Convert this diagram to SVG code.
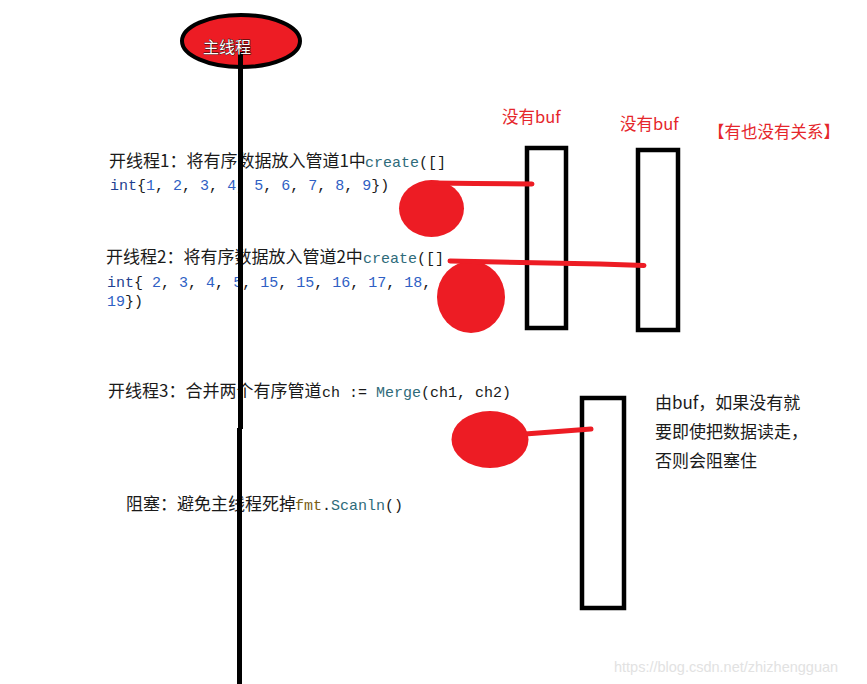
<svg xmlns="http://www.w3.org/2000/svg" width="867" height="684" viewBox="0 0 867 684">
<style>
.cjk{font-family:"Noto Sans CJK SC","Liberation Sans",sans-serif;font-size:17px;fill:#1a1a1a}
.mono{font-family:"Liberation Mono",monospace;font-size:15px;fill:#1a1a1a}
.fn{fill:#2f6b7a}
.kw{fill:#1f3f8f}
.num{fill:#2f5fc4}
.fmt{fill:#7a5c12}
.red{font-family:"Noto Sans CJK SC","Liberation Sans",sans-serif;font-size:16.5px;fill:#e5262b}
.box{fill:none;stroke:#000;stroke-width:4.5}
.dot{fill:#ed1c24}
.rl{stroke:#ed1c24;stroke-width:5;stroke-linecap:round;fill:none}
</style>
<rect width="867" height="684" fill="#fff"/>

<g id="thread1-text">
<text class="cjk" x="109" y="167">开线程1：将有序数据放入管道1中<tspan class="mono fn" x="365">create</tspan><tspan class="mono">([]</tspan></text>
<text class="mono" x="110" y="190"><tspan class="kw">int</tspan>{<tspan class="num">1</tspan>, <tspan class="num">2</tspan>, <tspan class="num">3</tspan>, <tspan class="num">4</tspan>, <tspan class="num">5</tspan>, <tspan class="num">6</tspan>, <tspan class="num">7</tspan>, <tspan class="num">8</tspan>, <tspan class="num">9</tspan>})</text>
</g>

<g id="thread2-text">
<text class="cjk" x="106" y="263">开线程2：将有序数据放入管道2中<tspan class="mono fn" x="363">create</tspan><tspan class="mono">([]</tspan></text>
<text class="mono" x="107" y="287"><tspan class="kw">int</tspan>{ <tspan class="num">2</tspan>, <tspan class="num">3</tspan>, <tspan class="num">4</tspan>, <tspan class="num">5</tspan>, <tspan class="num">15</tspan>, <tspan class="num">15</tspan>, <tspan class="num">16</tspan>, <tspan class="num">17</tspan>, <tspan class="num">18</tspan>,</text>
<text class="mono" x="107" y="306"><tspan class="num">19</tspan>})</text>
</g>

<g id="thread3-text">
<text class="cjk" x="108" y="397">开线程3：合并两个有序管道<tspan class="mono" x="322">ch := </tspan><tspan class="mono fn">Merge</tspan><tspan class="mono">(ch1, ch2)</tspan></text>
</g>

<g id="block-text">
<text class="cjk" x="126" y="510">阻塞：避免主线程死掉<tspan class="mono fmt" x="295">fmt</tspan><tspan class="mono">.</tspan><tspan class="mono fn">Scanln</tspan><tspan class="mono">()</tspan></text>
</g>

<g id="main-thread">
<line x1="240.5" y1="56" x2="240.5" y2="429" stroke="#000" stroke-width="5"/>
<line x1="239.5" y1="428" x2="239.5" y2="684" stroke="#000" stroke-width="5"/>
</g>

<g id="main-node">
<ellipse cx="241" cy="41" rx="59" ry="26" fill="#ed1c24" stroke="#000" stroke-width="4"/>
<line x1="240.5" y1="52" x2="240.5" y2="68" stroke="#000" stroke-width="5"/>
<text x="203" y="53" font-family="'Noto Sans CJK SC',sans-serif" font-size="16" fill="#fff" stroke="#000" stroke-width="0.8" paint-order="stroke">主线程</text>
</g>

<g id="channel1">
<rect class="box" x="527" y="148" width="39" height="180"/>
<text class="red" x="502" y="123">没有buf</text>
</g>

<g id="channel2">
<rect class="box" x="638" y="150" width="40" height="180"/>
<text class="red" x="620" y="130">没有buf</text>
<text class="red" x="708" y="138" font-size="15">【有也没有关系】</text>
</g>

<g id="channel3">
<rect class="box" x="582" y="398" width="42" height="210"/>
<text class="cjk" x="655" y="409" font-size="16">由buf，如果没有就</text>
<text class="cjk" x="655" y="438" font-size="16">要即使把数据读走，</text>
<text class="cjk" x="655" y="467" font-size="16">否则会阻塞住</text>
</g>

<g id="goroutine1"><ellipse class="dot" cx="431.5" cy="208.5" rx="32.5" ry="28.5"/></g>
<g id="goroutine2"><ellipse class="dot" cx="471" cy="297" rx="34" ry="36"/></g>
<g id="goroutine3"><ellipse class="dot" cx="490" cy="439.5" rx="38.5" ry="28.5"/></g>

<g id="connectors">
<path class="rl" d="M432 183 L475 183.5 L532 184"/>
<path class="rl" d="M450 261 L600 264 L644 265.5"/>
<path class="rl" d="M525 434 L591 429"/>
</g>

<text x="614" y="672" font-family="'Liberation Sans',sans-serif" font-size="14.5" fill="#e2e2e2">https://blog.csdn.net/zhizhengguan</text>
</svg>
